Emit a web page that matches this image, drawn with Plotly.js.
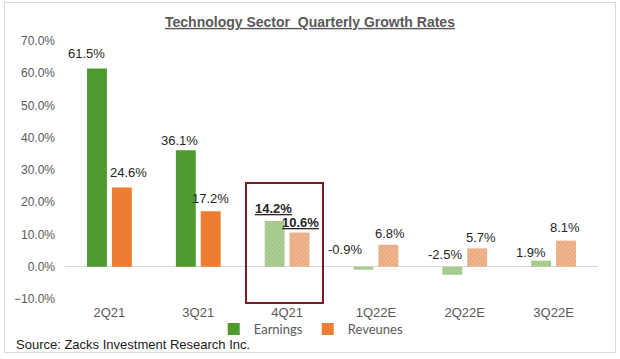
<!DOCTYPE html>
<html>
<head>
<meta charset="utf-8">
<script src="https://cdn.plot.ly/plotly-3.0.1.min.js"></script>
<style>
html,body{margin:0;padding:0;background:#fff;}
#wrap{position:relative;width:620px;height:359px;}
#chart{position:absolute;left:0;top:0;width:620px;height:359px;}
#frame{position:absolute;left:4px;top:2px;width:610px;height:349px;border:1px solid #d9d9d9;pointer-events:none;}
</style>
</head>
<body>
<div id="wrap"><div id="chart"></div><div id="frame"></div></div>
<script>
// ---- data ----
const quarters = ['2Q21', '3Q21', '4Q21', '1Q22E', '2Q22E', '3Q22E'];
const earnings = [61.5, 36.1, 14.2, -0.9, -2.5, 1.9];
const revenues = [24.6, 17.2, 10.6, 6.8, 5.7, 8.1];
const estimated = [false, false, true, true, true, true];
const highlightQuarter = '4Q21';
const seriesNames = ['Earnings', 'Reveunes'];
const titleText = 'Technology Sector&nbsp; Quarterly Growth Rates';
const sourceText = 'Source: Zacks Investment Research Inc.';

// ---- styles ----
const green = '#4E9A2E', greenHatchFg = '#86bf65', greenHatchBg = '#acd392';
const orange = '#ED7D31', orangeHatchFg = '#ec9a64', orangeHatchBg = '#f5b68c';
const labelDx = { e: [-10, -6, -1, -18, -7, -10], r: [7, 0, 1, 2, 4, -1] };
const labelDy = { e: [15, 10, 12, 17, 12, 8], r: [15, 13, 10, 11, 11, 13] };

function styleFor(solid, hfg, hbg) {
  return {
    color: estimated.map(e => e ? hbg : solid),
    pattern: {
      shape: estimated.map(e => e ? '/' : ''),
      fillmode: 'overlay',
      fgcolor: hfg,
      bgcolor: hbg,
      fgopacity: 0.18,
      size: 3,
      solidity: 0.3
    },
    line: { width: 0 }
  };
}

const traces = [
  { type: 'bar', name: seriesNames[0], x: quarters, y: earnings,
    marker: styleFor(green, greenHatchFg, greenHatchBg), hoverinfo: 'x+y' },
  { type: 'bar', name: seriesNames[1], x: quarters, y: revenues,
    marker: styleFor(orange, orangeHatchFg, orangeHatchBg), hoverinfo: 'x+y' }
];

function fmt(v, q) {
  const t = v.toFixed(1) + '%';
  return q === highlightQuarter ? '<b><u>' + t + '</u></b>' : t;
}
const annotations = [];
quarters.forEach((q, i) => {
  annotations.push({ x: q, y: Math.max(earnings[i], 0), xref: 'x', yref: 'y',
    text: fmt(earnings[i], q), showarrow: false, xshift: -12.5 + labelDx.e[i],
    yshift: labelDy.e[i], yanchor: 'middle',
    font: { family: 'Liberation Sans, Arial', size: 13, color: '#262626' } });
  annotations.push({ x: q, y: Math.max(revenues[i], 0), xref: 'x', yref: 'y',
    text: fmt(revenues[i], q), showarrow: false, xshift: 12.5 + labelDx.r[i],
    yshift: labelDy.r[i], yanchor: 'middle',
    font: { family: 'Liberation Sans, Arial', size: 13, color: '#262626' } });
});
annotations.push({ text: sourceText, xref: 'paper', yref: 'paper', x: -0.096, y: -0.178,
  xanchor: 'left', yanchor: 'middle', showarrow: false,
  font: { family: 'Liberation Sans, Arial', size: 13, color: '#1a1a1a' } });

const layout = {
  width: 620, height: 359,
  margin: { l: 65, r: 22, t: 41, b: 60, pad: 0 },
  paper_bgcolor: '#ffffff', plot_bgcolor: '#ffffff',
  title: { text: '<b><u>' + titleText + '</u></b>', x: 310 / 620, xanchor: 'center', xref: 'container',
    y: 1 - 22 / 359, yanchor: 'middle',
    font: { family: 'Liberation Sans, Arial', size: 14, color: '#595959' } },
  barmode: 'group', bargap: 0.44, bargroupgap: 0.2,
  showlegend: true,
  legend: { orientation: 'h', x: 0.462, xanchor: 'center', y: -0.116, yanchor: 'middle',
    font: { family: 'Lato, Open Sans', size: 13, color: '#595959' },
    itemwidth: 30, traceorder: 'normal', bgcolor: 'rgba(0,0,0,0)' },
  xaxis: { type: 'category', showgrid: false, zeroline: false, showline: false, ticks: '',
    tickfont: { family: 'Liberation Sans, Arial', size: 13, color: '#595959' },
    ticklabelstandoff: 4, fixedrange: true },
  yaxis: { range: [-10, 70], dtick: 10, tick0: 0, showgrid: false, zeroline: true,
    zerolinecolor: '#d9d9d9', zerolinewidth: 1, showline: false, ticks: '',
    tickformat: '.1f', ticksuffix: '%',
    tickfont: { family: 'Liberation Sans, Arial', size: 12, color: '#595959' },
    ticklabelstandoff: 9, fixedrange: true },
  shapes: [{ type: 'rect', xref: 'paper', yref: 'paper',
    x0: (246 - 65) / 533, x1: (323 - 65) / 533, y0: (299 - 303) / 258, y1: (299 - 183) / 258,
    line: { color: '#7b1c22', width: 2 }, fillcolor: 'rgba(0,0,0,0)', layer: 'above' }],
  annotations: annotations
};

Plotly.newPlot('chart', traces, layout, { displayModeBar: false, staticPlot: true });
</script>
</body>
</html>
